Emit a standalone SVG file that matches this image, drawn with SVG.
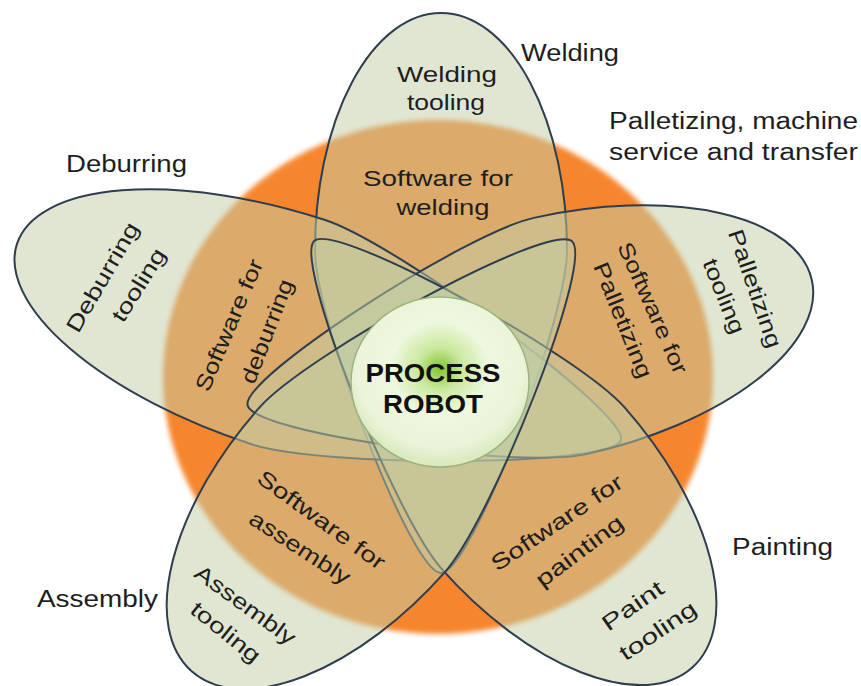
<svg xmlns="http://www.w3.org/2000/svg" width="861" height="686" viewBox="0 0 861 686">
<defs>
<style>
.petal{fill:#C1CDA5;fill-opacity:.5;stroke:#2F3E4E;stroke-width:2;stroke-linejoin:round}
text{font-family:"Liberation Sans",Arial,sans-serif;font-size:23px;fill:#1E1E1E}
.in{text-anchor:middle;font-size:22px}
.core{font-weight:bold;font-size:25px;text-anchor:middle;fill:#111}
</style>
<filter id="soft" x="-5%" y="-5%" width="110%" height="110%"><feGaussianBlur stdDeviation="2.5"/></filter>
<radialGradient id="robotFill" cx="0.5" cy="0.42" r="0.55">
<stop offset="0" stop-color="#7FC52E"/>
<stop offset="0.22" stop-color="#C9E89C"/>
<stop offset="0.5" stop-color="#EEF8E0"/>
<stop offset="0.85" stop-color="#EAF4D8"/>
<stop offset="1" stop-color="#DCEAC2"/>
</radialGradient>
</defs>
<rect width="861" height="686" fill="#FFFFFF"/>
<g id="base">
<ellipse cx="438" cy="377" rx="275" ry="257" fill="#F6862E" filter="url(#soft)"/>
</g>
<g id="welding">
<path class="petal" transform="translate(441 250)" d="M0,-237 A126,237 0 0 1 126,0 C126,70 30,323 0,323 C-30,323 -126,70 -126,0 A126,237 0 0 1 0,-237 Z"/>
<text x="521" y="61" textLength="98" lengthAdjust="spacingAndGlyphs">Welding</text>
<text class="in" x="447" y="82" textLength="100" lengthAdjust="spacingAndGlyphs">Welding</text>
<text class="in" x="446" y="110" textLength="78" lengthAdjust="spacingAndGlyphs">tooling</text>
<text class="in" x="438" y="186" textLength="150" lengthAdjust="spacingAndGlyphs">Software for</text>
<text class="in" x="443" y="215" textLength="93" lengthAdjust="spacingAndGlyphs">welding</text>
</g>
<g id="deburring">
<path class="petal" transform="translate(288 332) rotate(-72)" d="M0,-285 A118,285 0 0 1 118,0 C118,76 28,350 0,350 C-28,350 -118,76 -118,0 A118,285 0 0 1 0,-285 Z"/>
<text x="66" y="172" textLength="121" lengthAdjust="spacingAndGlyphs">Deburring</text>
<text class="in" transform="translate(109 281) rotate(-60)" textLength="123" lengthAdjust="spacingAndGlyphs">Deburring</text>
<text class="in" transform="translate(145 289) rotate(-58)" textLength="82" lengthAdjust="spacingAndGlyphs">tooling</text>
<text class="in" transform="translate(236 328) rotate(-67)" textLength="141" lengthAdjust="spacingAndGlyphs">Software for</text>
<text class="in" transform="translate(274 334) rotate(-69)" textLength="110" lengthAdjust="spacingAndGlyphs">deburring</text>
</g>
<g id="palletizing">
<path class="petal" transform="translate(560 336) rotate(77.5)" d="M0,-258 A121,258 0 0 1 121,0 C121,69 29,320 0,320 C-29,320 -121,69 -121,0 A121,258 0 0 1 0,-258 Z"/>
<text x="609" y="129" textLength="249" lengthAdjust="spacingAndGlyphs">Palletizing, machine</text>
<text x="609" y="160" textLength="249" lengthAdjust="spacingAndGlyphs">service and transfer</text>
<text class="in" transform="translate(646 311) rotate(66)" textLength="142" lengthAdjust="spacingAndGlyphs">Software for</text>
<text class="in" transform="translate(616 323) rotate(68)" textLength="123" lengthAdjust="spacingAndGlyphs">Palletizing</text>
<text class="in" transform="translate(748 291) rotate(71)" textLength="124" lengthAdjust="spacingAndGlyphs">Palletizing</text>
<text class="in" transform="translate(717 299) rotate(68)" textLength="79" lengthAdjust="spacingAndGlyphs">tooling</text>
</g>
<g id="painting">
<path class="petal" transform="translate(533 488) rotate(138.5)" d="M0,-240 A122,240 0 0 1 122,0 C122,72 29,330 0,330 C-29,330 -122,72 -122,0 A122,240 0 0 1 0,-240 Z"/>
<text x="732" y="555" textLength="101" lengthAdjust="spacingAndGlyphs">Painting</text>
<text class="in" transform="translate(561 529) rotate(-34)" textLength="154" lengthAdjust="spacingAndGlyphs">Software for</text>
<text class="in" transform="translate(584 557) rotate(-37)" textLength="104" lengthAdjust="spacingAndGlyphs">painting</text>
<text class="in" transform="translate(637 612) rotate(-35)" textLength="70" lengthAdjust="spacingAndGlyphs">Paint</text>
<text class="in" transform="translate(662 637) rotate(-34)" textLength="88" lengthAdjust="spacingAndGlyphs">tooling</text>
</g>
<g id="assembly">
<path class="petal" transform="translate(352 490) rotate(221.5)" d="M0,-242 A124,242 0 0 1 124,0 C124,72 30,332 0,332 C-30,332 -124,72 -124,0 A124,242 0 0 1 0,-242 Z"/>
<text x="37" y="607" textLength="121" lengthAdjust="spacingAndGlyphs">Assembly</text>
<text class="in" transform="translate(317 526) rotate(36)" textLength="152" lengthAdjust="spacingAndGlyphs">Software for</text>
<text class="in" transform="translate(296 554) rotate(33)" textLength="116" lengthAdjust="spacingAndGlyphs">assembly</text>
<text class="in" transform="translate(241 611) rotate(36)" textLength="119" lengthAdjust="spacingAndGlyphs">Assembly</text>
<text class="in" transform="translate(221 638) rotate(39)" textLength="83" lengthAdjust="spacingAndGlyphs">tooling</text>
</g>
<g id="process-robot">
<ellipse cx="440" cy="382" rx="89" ry="85" fill="url(#robotFill)" stroke="#9DB27E" stroke-width="1.5"/>
<text class="core" x="433" y="382" textLength="135" lengthAdjust="spacingAndGlyphs">PROCESS</text>
<text class="core" x="433" y="413" textLength="100" lengthAdjust="spacingAndGlyphs">ROBOT</text>
</g>
<g id="connectors"/>
</svg>
